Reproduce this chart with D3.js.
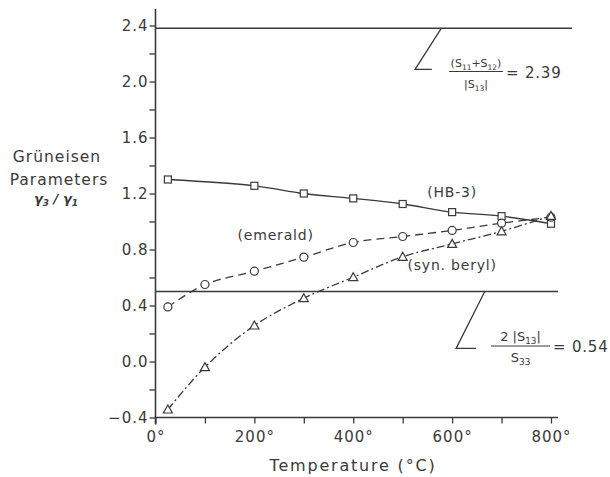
<!DOCTYPE html>
<html lang="en">
<head>
    <meta charset="UTF-8" />
    <title>Grüneisen parameters vs temperature</title>
    <script src="https://d3js.org/d3.v7.min.js"></script>
    <style>
        body { margin: 0; background: #fff; }
        text { font-family: "DejaVu Sans", sans-serif; fill: #3a3a3a; }
    </style>
</head>

<body>
    <script>
        var w = 610;
        var h = 477;
        var ink = "#3a3a3a";

        // Data
        var temps = [25, 100, 200, 300, 400, 500, 600, 700, 800];
        var hb3Temps = [25, 200, 300, 400, 500, 600, 700, 800];
        var hb3 = [1.30, 1.255, 1.20, 1.165, 1.125, 1.067, 1.038, 0.984];
        var emerald = [0.39, 0.55, 0.645, 0.745, 0.85, 0.893, 0.936, 0.988, 1.031];
        var synBeryl = [-0.343, -0.04, 0.257, 0.452, 0.602, 0.748, 0.84, 0.93, 1.04];
        var limitTop = 2.38;
        var limitBottom = 0.5;
        var yTicks = [-0.4, 0.0, 0.4, 0.8, 1.2, 1.6, 2.0, 2.4];
        var xTicks = [0, 200, 400, 600, 800];

        var svg = d3.select("body")
            .append("svg")
            .attr("width", w)
            .attr("height", h);

        // Scales
        var xScale = d3.scaleLinear().domain([0, 800]).range([155.5, 551]);
        var yScale = d3.scaleLinear().domain([-0.4, 2.4]).range([417.5, 25.5]);

        // Y axis (ticks every 0.2, labels every 0.4)
        var yAxis = d3.axisLeft(yScale)
            .tickValues(d3.range(-0.4, 2.41, 0.2))
            .tickSize(6)
            .tickFormat(function(d) {
                var hit = yTicks.find(function(t) { return Math.abs(t - d) < 1e-6; });
                return hit === undefined ? "" : d3.format(".1f")(hit).replace("-", "\u2212");
            });
        var gy = svg.append("g")
            .attr("transform", "translate(" + xScale(0) + ",0)")
            .call(yAxis);
        gy.select(".domain").remove();
        gy.append("line")
            .attr("x1", 0).attr("x2", 0)
            .attr("y1", 9).attr("y2", yScale(-0.4) + 7)
            .attr("stroke", ink).attr("stroke-width", 1.6);

        // X axis (ticks every 100, labels every 200)
        var xAxis = d3.axisBottom(xScale)
            .tickValues(d3.range(0, 801, 100))
            .tickSize(6)
            .tickFormat(function(d) { return xTicks.indexOf(d) >= 0 ? d + "\u00b0" : ""; });
        var gx = svg.append("g")
            .attr("transform", "translate(0," + yScale(-0.4) + ")")
            .call(xAxis);
        gx.select(".domain").remove();
        gx.append("line")
            .attr("x1", xScale(0)).attr("x2", xScale(800) + 7)
            .attr("y1", 0).attr("y2", 0)
            .attr("stroke", ink).attr("stroke-width", 1.6);

        svg.selectAll(".tick line").attr("stroke", ink).attr("stroke-width", 1.3);
        svg.selectAll(".tick text")
            .style("font-size", "15px")
            .style("letter-spacing", "1px")
            .attr("fill", ink);
        gy.selectAll(".tick text").attr("x", -7);
        gx.selectAll(".tick text").attr("y", 14);

        // Limit lines
        svg.append("line")
            .attr("x1", xScale(0)).attr("x2", 572)
            .attr("y1", yScale(limitTop)).attr("y2", yScale(limitTop))
            .attr("stroke", ink).attr("stroke-width", 1.6);
        svg.append("line")
            .attr("x1", xScale(0)).attr("x2", xScale(800) + 7)
            .attr("y1", yScale(limitBottom)).attr("y2", yScale(limitBottom))
            .attr("stroke", ink).attr("stroke-width", 1.6);

        // Curves
        var line = d3.line()
            .x(function(d) { return xScale(d[0]); })
            .y(function(d) { return yScale(d[1]); })
            .curve(d3.curveCatmullRom.alpha(0.5));

        var hbPts = d3.zip(hb3Temps, hb3);
        var emPts = d3.zip(temps, emerald);
        var sbPts = d3.zip(temps, synBeryl);

        svg.append("path").datum(hbPts).attr("d", line)
            .attr("fill", "none").attr("stroke", ink).attr("stroke-width", 1.3);
        svg.append("path").datum(emPts).attr("d", line)
            .attr("fill", "none").attr("stroke", ink).attr("stroke-width", 1.3)
            .attr("stroke-dasharray", "8,5");
        svg.append("path").datum(sbPts).attr("d", line)
            .attr("fill", "none").attr("stroke", ink).attr("stroke-width", 1.3)
            .attr("stroke-dasharray", "8,3,2,3");

        // Markers
        svg.selectAll(".sq").data(hbPts).enter().append("rect")
            .attr("x", function(d) { return xScale(d[0]) - 3.5; })
            .attr("y", function(d) { return yScale(d[1]) - 3.5; })
            .attr("width", 7).attr("height", 7)
            .attr("fill", "#fff").attr("stroke", ink).attr("stroke-width", 1.2);
        svg.selectAll(".ci").data(emPts).enter().append("circle")
            .attr("cx", function(d) { return xScale(d[0]); })
            .attr("cy", function(d) { return yScale(d[1]); })
            .attr("r", 4)
            .attr("fill", "#fff").attr("stroke", ink).attr("stroke-width", 1.2);
        svg.selectAll(".tr").data(sbPts).enter().append("path")
            .attr("transform", function(d) { return "translate(" + xScale(d[0]) + "," + yScale(d[1]) + ")"; })
            .attr("d", "M0,-4.5L4.5,3.5L-4.5,3.5Z")
            .attr("fill", "#fff").attr("stroke", ink).attr("stroke-width", 1.2);

        // Series labels
        function label(t, v, s) {
            svg.append("text")
                .attr("x", xScale(t)).attr("y", yScale(v))
                .attr("text-anchor", "middle")
                .style("font-size", "14px").style("letter-spacing", "0.8px")
                .text(s);
        }
        label(600, 1.175, "(HB-3)");
        label(243, 0.865, "(emerald)");
        label(600, 0.655, "(syn. beryl)");

        // Leader lines for the limits
        var leader = d3.line()
            .x(function(d) { return xScale(d[0]); })
            .y(function(d) { return yScale(d[1]); });
        svg.append("path").datum([[578, limitTop], [525, 2.087], [559, 2.087]])
            .attr("d", leader).attr("fill", "none").attr("stroke", ink).attr("stroke-width", 1.3);
        svg.append("path").datum([[666, limitBottom], [608, 0.094], [648, 0.094]])
            .attr("d", leader).attr("fill", "none").attr("stroke", ink).attr("stroke-width", 1.3);

        // Fraction annotations
        function frac(x0, x1, yBar, size, num, den, tail) {
            var g = svg.append("g");
            g.append("line")
                .attr("x1", x0).attr("x2", x1).attr("y1", yBar).attr("y2", yBar)
                .attr("stroke", ink).attr("stroke-width", 1.2);
            [[num, yBar - 5], [den, yBar + 16]].forEach(function(p) {
                var t = g.append("text")
                    .attr("x", (x0 + x1) / 2).attr("y", p[1])
                    .attr("text-anchor", "middle")
                    .style("font-size", size + "px");
                p[0].forEach(function(part) {
                    t.append("tspan")
                        .style("font-size", part.sub ? (size * 0.68) + "px" : size + "px")
                        .attr("dy", part.dy || 0)
                        .text(part.s);
                });
            });
            g.append("text")
                .attr("x", x1 + 3).attr("y", yBar + 6)
                .style("font-size", "15px").style("letter-spacing", "0.8px")
                .text(tail);
        }
        frac(449, 503, 71.5, 11,
            [{s: "(S"}, {s: "11", sub: true, dy: 3}, {s: "+S", dy: -3}, {s: "12", sub: true, dy: 3}, {s: ")", dy: -3}],
            [{s: "|S"}, {s: "13", sub: true, dy: 3}, {s: "|", dy: -3}],
            "= 2.39");
        frac(491, 550, 346, 13,
            [{s: "2 |S"}, {s: "13", sub: true, dy: 3}, {s: "|", dy: -3}],
            [{s: "S"}, {s: "33", sub: true, dy: 3}],
            "= 0.54");

        // Axis titles
        svg.append("text")
            .attr("x", 353).attr("y", 471)
            .attr("text-anchor", "middle")
            .style("font-size", "16px").style("letter-spacing", "1.8px")
            .text("Temperature (\u00b0C)");

        var yt = svg.append("text")
            .attr("text-anchor", "middle")
            .style("font-size", "15.5px").style("letter-spacing", "1px");
        yt.append("tspan").attr("x", 57).attr("y", 162).text("Grüneisen");
        yt.append("tspan").attr("x", 59).attr("y", 185).text("Parameters");
        var yg = svg.append("text")
            .attr("x", 56).attr("y", 203)
            .attr("text-anchor", "middle")
            .style("font-size", "13px").style("font-style", "italic").style("font-weight", "bold");
        yg.append("tspan").text("γ");
        yg.append("tspan").style("font-size", "9px").attr("dy", 3).text("3");
        yg.append("tspan").attr("dy", -3).text(" / γ");
        yg.append("tspan").style("font-size", "9px").attr("dy", 3).text("1");
    </script>
</body>
</html>
